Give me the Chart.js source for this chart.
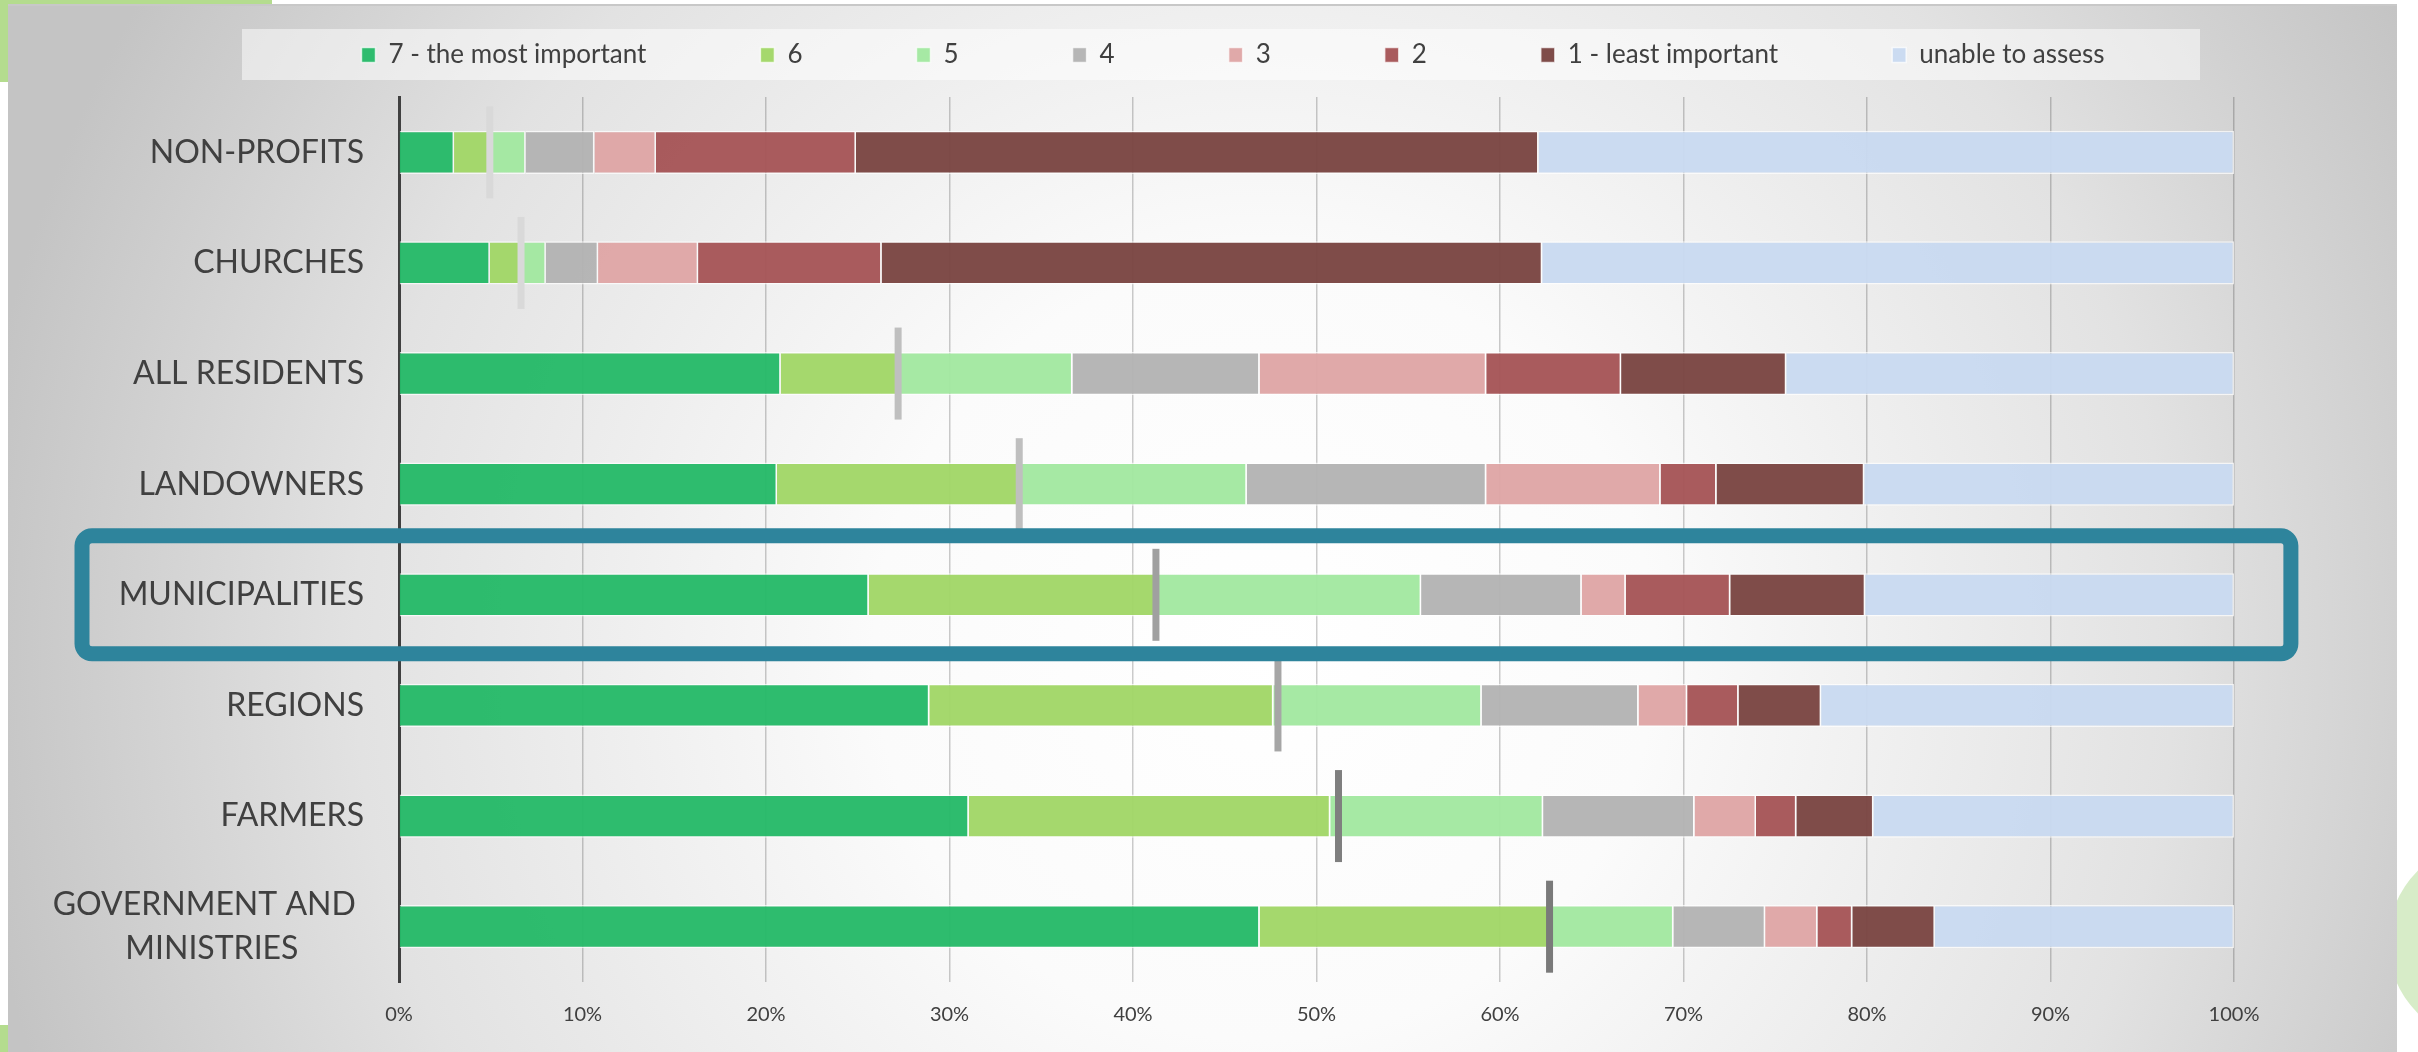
<!DOCTYPE html>
<html>
<head>
<meta charset="utf-8">
<script src="https://cdn.jsdelivr.net/npm/chart.js@4.4.1/dist/chart.umd.min.js"></script>
<style>
  html, body { margin: 0; padding: 0; background: #fff; }
  .chart-box { position: relative; width: 2418px; height: 1052px; }
</style>
</head>
<body>
<div class="chart-box"><canvas id="chart"></canvas></div>
<script>
// categories, top to bottom
const categories = ['NON-PROFITS', 'CHURCHES', 'ALL RESIDENTS', 'LANDOWNERS', 'MUNICIPALITIES',
                    'REGIONS', 'FARMERS', ['GOVERNMENT AND ', 'MINISTRIES        ']];

// share of answers per rating (%)
const rating7 = [3.0, 4.95, 20.8, 20.6, 25.6, 28.9, 31.05, 46.9];
const rating6 = [2.0, 1.65, 6.5, 13.2, 15.7, 18.75, 19.7, 15.9];
const rating5 = [1.9, 1.4, 9.4, 12.4, 14.4, 11.35, 11.6, 6.65];
const rating4 = [3.75, 2.85, 10.2, 13.05, 8.75, 8.55, 8.25, 5.0];
const rating3 = [3.35, 5.45, 12.35, 9.5, 2.4, 2.65, 3.35, 2.85];
const rating2 = [10.9, 10.0, 7.35, 3.05, 5.7, 2.8, 2.2, 1.9];
const rating1 = [37.2, 36.0, 9.0, 8.05, 7.35, 4.5, 4.2, 4.5];
const unable = [37.9, 37.7, 24.4, 20.15, 20.1, 22.5, 19.65, 16.3];

// grey tick marks on each bar
const markerValues = [4.95, 6.65, 27.2, 33.8, 41.25, 47.9, 51.2, 62.7];
const markerColors = ['#d9d9d9', '#d9d9d9', '#bfbfbf', '#bfbfbf', '#a0a0a0', '#a6a6a6', '#7f7f7f', '#7a7a7a'];

const seriesNames = ['7 - the most important', '6', '5', '4', '3', '2', '1 - least important', 'unable to assess'];
const seriesData = [rating7, rating6, rating5, rating4, rating3, rating2, rating1, unable];
const seriesColors = ['rgba(37,185,104,0.96)', 'rgba(161,214,103,0.96)', 'rgba(162,232,160,0.96)', 'rgba(179,179,179,0.96)',
                      'rgba(223,166,166,0.96)', 'rgba(165,84,86,0.96)', 'rgba(122,69,66,0.96)', 'rgba(201,218,240,0.96)'];

Chart.defaults.font.family = 'Lato';
Chart.defaults.color = '#404040';

const slideBackground = {
    id: 'slideBackground',
    beforeDraw(chart) {
        const {ctx, width, height, chartArea, legend} = chart;
        ctx.save();
        ctx.fillStyle = '#ffffff';
        ctx.fillRect(0, 0, width, height);
        // green shapes of the slide behind
        ctx.fillStyle = '#b4dc8e';
        ctx.fillRect(0, 0, 272, 82);
        ctx.fillRect(0, height - 27, 8, 27);
        ctx.fillStyle = '#d7ecc8';
        ctx.beginPath();
        ctx.arc(width + 70, height - 110, 100, 0, Math.PI * 2);
        ctx.fill();
        // grey panel
        const g = ctx.createRadialGradient(1265, 650, 0, 1265, 650, 1300);
        g.addColorStop(0, '#ffffff');
        g.addColorStop(0.3, '#fbfbfb');
        g.addColorStop(0.7, '#e2e2e2');
        g.addColorStop(1, '#c4c4c4');
        ctx.fillStyle = g;
        ctx.fillRect(8, 4, 2389, height - 4);
        ctx.fillStyle = '#c8c8c8';
        ctx.fillRect(8, 4, 2389, 2);
        // legend band
        const textY = legend.top + legend.options.labels.padding + 13;
        ctx.fillStyle = 'rgba(255,255,255,0.5)';
        ctx.fillRect(chartArea.left - 157, textY - 26, 1958, 51);
        ctx.restore();
    },
    afterDraw(chart) {
        const {ctx, scales: {x, y}} = chart;
        const idx = categories.indexOf('MUNICIPALITIES');
        const cy = y.getPixelForValue(idx);
        const half = (y.getPixelForValue(1) - y.getPixelForValue(0)) * 0.533;
        const left = x.getPixelForValue(0) - 317;
        const right = x.getPixelForValue(103.1);
        ctx.save();
        ctx.strokeStyle = '#2e849c';
        ctx.lineWidth = 15;
        ctx.beginPath();
        ctx.roundRect(left, cy - half, right - left, half * 2, 10);
        ctx.stroke();
        ctx.restore();
    }
};

const datasets = seriesData.map((data, i) => ({
    type: 'bar',
    label: seriesNames[i],
    data: data,
    backgroundColor: seriesColors[i],
    borderColor: 'rgba(255,255,255,0.7)',
    borderWidth: 1.5,
    barPercentage: 0.39,
    categoryPercentage: 1,
    order: 1
}));

datasets.push({
    type: 'scatter',
    label: 'marker',
    data: markerValues.map((v, i) => ({x: v, y: i})),
    pointStyle: 'line',
    rotation: 90,
    pointRadius: 46,
    pointHoverRadius: 46,
    pointBorderWidth: 7,
    pointHoverBorderWidth: 7,
    pointBorderColor: markerColors,
    pointBackgroundColor: markerColors,
    order: 0
});

document.fonts.load('32px Lato').then(() => {
    new Chart(document.getElementById('chart'), {
        data: {labels: categories, datasets: datasets},
        plugins: [slideBackground],
        options: {
            indexAxis: 'y',
            responsive: true,
            maintainAspectRatio: false,
            animation: false,
            layout: {padding: {top: -72, left: 232, right: 184, bottom: 4}},
            plugins: {
                legend: {
                    position: 'top',
                    labels: {
                        boxWidth: 14,
                        boxHeight: 15,
                        padding: 114,
                        color: '#404040',
                        font: {size: 26},
                        filter: item => item.datasetIndex < seriesNames.length
                    }
                },
                tooltip: {enabled: false}
            },
            scales: {
                x: {
                    stacked: true,
                    min: 0,
                    max: 100,
                    border: {display: false},
                    grid: {color: 'rgba(0,0,0,0.2)', lineWidth: 1.5, drawTicks: false},
                    ticks: {stepSize: 10, padding: 21, font: {size: 20}, callback: v => v + '%'}
                },
                xTop: {
                    type: 'linear',
                    position: 'top',
                    display: true,
                    grid: {display: false},
                    border: {display: false},
                    ticks: {display: false},
                    afterFit: s => { s.height = 19; }
                },
                y: {
                    stacked: true,
                    grid: {display: false, drawTicks: false},
                    border: {color: '#404040', width: 3},
                    ticks: {padding: 35, autoSkip: false, font: {size: 32, lineHeight: 1.375}, color: '#404040'},
                    afterFit: s => { s.width = 167; },
                    // labels reach past the narrow axis box, so do not clip them
                    afterUpdate: s => { s._computeLabelArea = () => null; }
                }
            }
        }
    });
});
</script>
</body>
</html>
